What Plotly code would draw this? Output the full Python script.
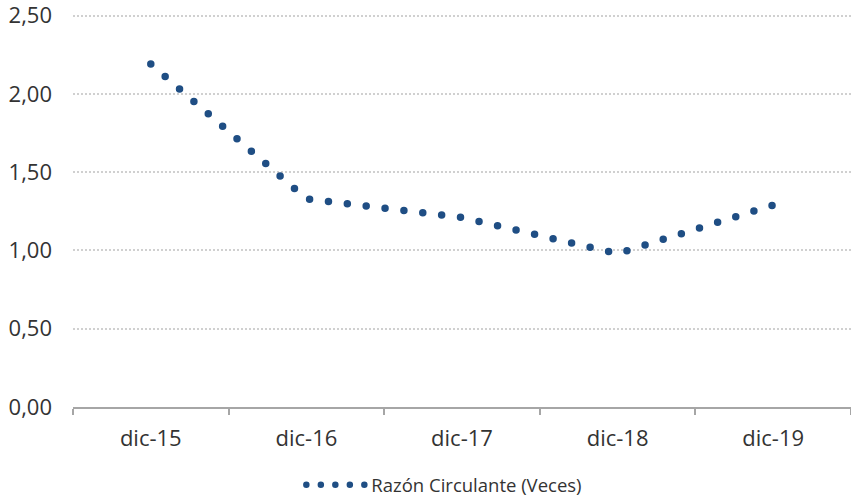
import plotly.graph_objects as go

# Data
categories = ["dic-15", "dic-16", "dic-17", "dic-18", "dic-19"]
razon_circulante = [2.19, 1.33, 1.21, 0.98, 1.29]
series_name = "Razón Circulante (Veces)"
y_tick_values = [0, 0.5, 1.0, 1.5, 2.0, 2.5]

LINE_COLOR = "#1F4E84"
TEXT_COLOR = "#333333"
FONT = "Open Sans"

fig = go.Figure()
fig.add_trace(go.Scatter(
    x=categories,
    y=razon_circulante,
    mode="lines",
    name=series_name,
    line=dict(color=LINE_COLOR, width=7.5, dash="0px,19px"),
    hoverinfo="x+y",
))

fig.update_layout(
    width=851,
    height=497,
    margin=dict(l=73, r=0, t=14, b=90, autoexpand=False),
    paper_bgcolor="white",
    plot_bgcolor="white",
    separators=",.",
    font=dict(family=FONT, size=22, color=TEXT_COLOR),
    showlegend=True,
    legend=dict(
        orientation="h",
        x=0.2935, xanchor="left",
        y=-0.199, yanchor="middle",
        font=dict(size=18.5, color=TEXT_COLOR),
        itemwidth=60,
        bgcolor="rgba(0,0,0,0)",
    ),
    xaxis=dict(
        type="category",
        range=[-0.5, 4.5],
        automargin=False,
        showgrid=False,
        showline=True,
        linecolor="#A6A6A6",
        linewidth=1.5,
        ticks="outside",
        tickson="boundaries",
        ticklen=6,
        tickwidth=1.5,
        tickcolor="#A6A6A6",
        ticklabelstandoff=11,
        ticklabeloverflow="allow",
        tickfont=dict(size=22, color=TEXT_COLOR),
        fixedrange=True,
    ),
    yaxis=dict(
        range=[0, 2.51],
        automargin=False,
        tickvals=y_tick_values,
        tickformat=".2f",
        showgrid=True,
        gridcolor="#D0D0D0",
        gridwidth=2,
        griddash="2px,2px",
        zeroline=False,
        showline=False,
        ticks="",
        ticklabelstandoff=20,
        ticklabeloverflow="allow",
        tickfont=dict(size=22, color=TEXT_COLOR),
        fixedrange=True,
    ),
)

post = """
document.body.style.margin = '0';
var gd = document.getElementById('{plot_id}');
function roundCaps(){
  gd.querySelectorAll('.scatterlayer .js-line').forEach(function(p){
    p.style.strokeLinecap = 'round';
  });
  gd.querySelectorAll('.legend .js-line, .legendlines path').forEach(function(p){
    p.style.strokeLinecap = 'round';
    p.style.strokeDasharray = '0px,14.5px';
    p.style.strokeWidth = '6.5px';
  });
}
roundCaps();
gd.on('plotly_afterplot', roundCaps);
"""

fig.write_html("out.html", post_script=post, config={"displayModeBar": False})
